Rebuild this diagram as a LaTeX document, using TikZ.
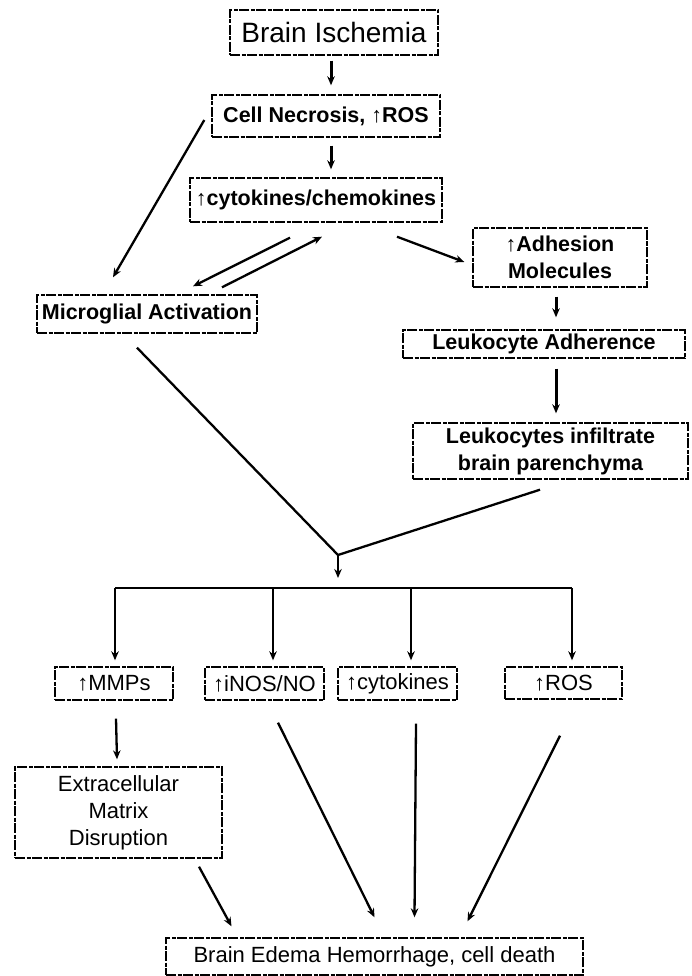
\documentclass[tikz,border=0pt]{standalone}
\usepackage{fontspec}
\setmainfont{Liberation Sans}
\usetikzlibrary{arrows.meta,calc}
\newcommand\uar{↑}
\begin{document}
\begin{tikzpicture}[x=1pt,y=-1pt,
  box/.style={draw, line width=1.4pt, dash pattern=on 10pt off 1.5pt on 4pt off 1.5pt, inner sep=0pt, align=center, font=\fontsize{21.5}{27}\selectfont\bfseries},
  lbox/.style={box, font=\fontsize{22}{27}\selectfont},
  arr/.style={line width=2.3pt, -{Stealth[length=9pt,width=7.5pt]}},
  thk/.style={arr, line width=3pt},
  ln/.style={line width=2.3pt}]
\fill[white] (0,0) rectangle (691,976);
\useasboundingbox (0,0) rectangle (691,976);

\node[box, minimum width=208, minimum height=45, font=\fontsize{28}{32}\selectfont] (bi) at (334,32.5) {Brain Ischemia};
\node[box, minimum width=228, minimum height=42] (cn) at (326,116) {Cell Necrosis, \uar ROS};
\node[box, minimum width=252, minimum height=44] (ck) at (316,200) {\uar cytokines/chemokines};
\node[box, minimum width=174, minimum height=59] (ad) at (560,257.5) {\uar Adhesion\\Molecules};
\node[box, minimum width=220, minimum height=38] (mg) at (147,314) {Microglial Activation};
\node[box, minimum width=282, minimum height=28] (la) at (544,344) {Leukocyte Adherence};
\node[box, minimum width=275, minimum height=56] (li) at (550.5,451) {Leukocytes infiltrate\\brain parenchyma};
\node[lbox, minimum width=118, minimum height=33] (mm) at (114,683.5) {\uar MMPs};
\node[lbox, minimum width=119, minimum height=33] (inos) at (264.5,683.5) {\uar iNOS/NO};
\node[lbox, minimum width=119, minimum height=33] (cy) at (397.5,683.5) {\uar cytokines};
\node[lbox, minimum width=117, minimum height=32] (ro) at (563.5,683) {\uar ROS};
\node[lbox, minimum width=207, minimum height=91] (ec) at (118.5,812.5) {Extracellular\\Matrix\\Disruption};
\node[lbox, minimum width=417, minimum height=37] (be) at (374.5,956.5) {Brain Edema Hemorrhage, cell death};

\coordinate (j) at (338,555);
\coordinate (bus) at (338,588);

\draw[thk] ([shift={(-3,5)}]bi.south) -- ([shift={(5,-9)}]cn.north);
\draw[thk] ([shift={(5,8)}]cn.south) -- ([shift={(15,-8)}]ck.north);
\draw[arr] ([shift={(-7,4)}]cn.west) -- ([shift={(-34,-17)}]mg.north);
\draw[arr] ([shift={(-26,15)}]ck.south) -- ([shift={(46,-8)}]mg.north);
\draw[arr] ([shift={(75,-7)}]mg.north) -- ([shift={(6,14)}]ck.south);
\draw[arr] ([shift={(81,14)}]ck.south) -- ([shift={(-8,4.5)}]ad.west);
\draw[thk] ([shift={(-4,9)}]ad.south) -- ([shift={(12,-12)}]la.north);
\draw[thk] ([shift={(12,10)}]la.south) -- ([shift={(5.5,-9)}]li.north);
\draw[ln] ([shift={(-10,14)}]mg.south) -- (j) -- ([shift={(-10.5,10)}]li.south);
\draw[arr] (j) -- ([shift={(0,-10)}]bus);

\coordinate (dm) at ([shift={(1,-6)}]mm.north);
\coordinate (di) at ([shift={(8.5,-6)}]inos.north);
\coordinate (dc) at ([shift={(13.5,-6)}]cy.north);
\coordinate (dr) at ([shift={(8.5,-6)}]ro.north);
\draw[ln] (dm |- bus) -- (dr |- bus);
\draw[arr] (dm |- bus) -- (dm);
\draw[arr] (di |- bus) -- (di);
\draw[arr] (dc |- bus) -- (dc);
\draw[arr] (dr |- bus) -- (dr);

\draw[arr] ([shift={(2,18)}]mm.south) -- ([shift={(-1.5,-7)}]ec.north);
\draw[arr] ([shift={(80.5,8)}]ec.south) -- ([shift={(-143,-11)}]be.north);
\draw[arr] ([shift={(13.5,22)}]inos.south) -- ([shift={(0,-20)}]be.north);
\draw[arr] ([shift={(18.5,23)}]cy.south) -- ([shift={(40,-20)}]be.north);
\draw[arr] ([shift={(-3.5,36)}]ro.south) -- ([shift={(93,-16)}]be.north);
\end{tikzpicture}
\end{document}
